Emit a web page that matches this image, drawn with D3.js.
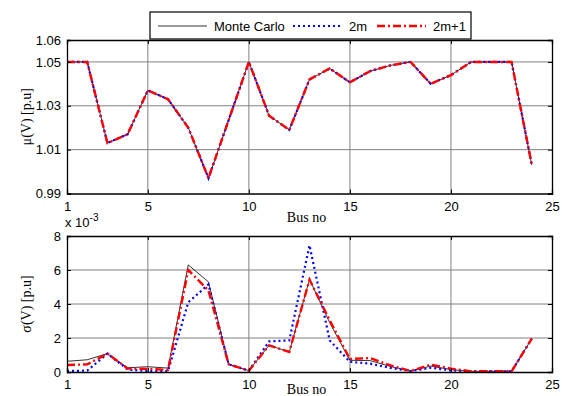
<!DOCTYPE html>
<html>
<head>
<meta charset="utf-8">
<script src="https://cdn.jsdelivr.net/npm/d3@7"></script>
<style>
  body { margin: 0; background: #fff; }
  svg text { font-family: Arial, "Liberation Sans", sans-serif; }
  .serif { font-family: "Times New Roman", "Liberation Serif", serif; }
</style>
</head>
<body>
<svg id="chart" width="562" height="396"></svg>
<script>
// bus numbers
var buses = d3.range(1, 25);

// mean voltage mu(V) [p.u]
var muMC  = [1.050, 1.050, 1.013, 1.017, 1.037, 1.033, 1.020, 0.997, 1.0235, 1.050, 1.0255, 1.019,
             1.042, 1.047, 1.0407, 1.0458, 1.0484, 1.050, 1.040, 1.044, 1.050, 1.050, 1.050, 1.003];
var mu2m  = muMC.slice();
var mu2m1 = muMC.slice();

// std voltage sigma(V) [p.u] x 1e-3
var sdMC  = [0.63, 0.72, 1.08, 0.25, 0.31, 0.23, 6.3, 5.3, 0.45, 0.08, 1.57, 1.18,
             5.45, 2.9, 0.69, 0.67, 0.33, 0.06, 0.35, 0.14, 0.04, 0.04, 0.04, 1.96];
var sd2m  = [0.06, 0.08, 1.08, 0.15, 0.05, 0.05, 4.1, 5.15, 0.45, 0.08, 1.8, 1.86,
             7.45, 1.86, 0.6, 0.49, 0.24, 0.05, 0.25, 0.1, 0.04, 0.04, 0.04, 1.96];
var sd2m1 = [0.41, 0.45, 1.08, 0.2, 0.18, 0.13, 6.0, 4.8, 0.45, 0.08, 1.57, 1.18,
             5.43, 3.04, 0.76, 0.82, 0.39, 0.06, 0.43, 0.2, 0.04, 0.04, 0.04, 1.96];

var xTicks = [1, 5, 10, 15, 20, 25];
var muTicks = [0.99, 1.01, 1.03, 1.05, 1.06];
var sdTicks = [0, 2, 4, 6, 8];

var seriesNames = ["Monte Carlo", "2m", "2m+1"];
var styles = {
  "Monte Carlo": { color: "#000", width: 0.8, dash: null },
  "2m": { color: "#0000ff", width: 2.2, dash: "2,3" },
  "2m+1": { color: "#ff0000", width: 2.4, dash: "8,3,2,3" }
};

var svg = d3.select("#chart");
var left = 67, right = 552;

var x = d3.scaleLinear().domain([1, 25]).range([left, right]);

function panel(top, bottom, yDomain, yTicks, gridTicks, data, ylabel, tickFmt, xlabY) {
  var y = d3.scaleLinear().domain(yDomain).range([bottom, top]);
  var g = svg.append("g");

  // grid
  g.selectAll(".vg").data(xTicks.filter(function(d) { return d > 1 && d < 25; }))
    .join("line")
    .attr("x1", d => x(d)).attr("x2", d => x(d))
    .attr("y1", top).attr("y2", bottom)
    .attr("stroke", "#808080").attr("stroke-width", 1);
  g.selectAll(".hg").data(gridTicks)
    .join("line")
    .attr("x1", left).attr("x2", right)
    .attr("y1", d => y(d)).attr("y2", d => y(d))
    .attr("stroke", "#808080").attr("stroke-width", 1);

  // lines
  var line = d3.line().x((d, i) => x(buses[i])).y(d => y(d));
  data.forEach(function(vals, k) {
    var s = styles[seriesNames[k]];
    g.append("path")
      .attr("d", line(vals))
      .attr("fill", "none")
      .attr("stroke", s.color)
      .attr("stroke-width", s.width)
      .attr("stroke-dasharray", s.dash);
  });

  // axes
  var axB = d3.axisBottom(x).tickValues(xTicks).tickSize(-4).tickPadding(8).tickFormat(d3.format("d"));
  var axT = d3.axisTop(x).tickValues(xTicks).tickSize(-4).tickFormat("");
  var axL = d3.axisLeft(y).tickValues(yTicks).tickSize(-4).tickPadding(6).tickFormat(tickFmt);
  var axR = d3.axisRight(y).tickValues(yTicks).tickSize(-4).tickFormat("");

  [[axB, "translate(0," + bottom + ")"], [axT, "translate(0," + top + ")"],
   [axL, "translate(" + left + ",0)"], [axR, "translate(" + right + ",0)"]].forEach(function(a) {
    var ag = g.append("g").attr("transform", a[1]).call(a[0]);
    ag.select(".domain").attr("stroke", "#000").attr("stroke-width", 1.3);
    ag.selectAll("text").attr("font-size", 13).attr("fill", "#000")
      .style("font-family", "Arial, 'Liberation Sans', sans-serif");
  });

  g.append("text").attr("class", "serif")
    .attr("transform", "translate(31," + ((top + bottom) / 2) + ") rotate(-90)")
    .attr("text-anchor", "middle").attr("font-size", 14)
    .text(ylabel);

  g.append("text").attr("class", "serif")
    .attr("x", (left + right) / 2 - 3).attr("y", xlabY)
    .attr("text-anchor", "middle").attr("font-size", 14)
    .text("Bus no");

  return y;
}

panel(40, 193.5, [0.99, 1.06], muTicks, [1.01, 1.03, 1.05], [muMC, mu2m, mu2m1], "\u03bc(V) [p.u]",
      function(d) { return d3.format(".2f")(d); }, 222);
panel(236, 372, [0, 8], sdTicks, [2, 4, 6], [sdMC, sd2m, sd2m1], "\u03c3(V) [p.u]",
      d3.format("d"), 394);

// exponent label
var ex = svg.append("text").attr("x", 65).attr("y", 227).attr("font-size", 13);
ex.append("tspan").text("x 10");
ex.append("tspan").attr("dy", -6).attr("font-size", 10).text("-3");

// legend
var lg = svg.append("g");
lg.append("rect").attr("x", 150).attr("y", 12).attr("width", 321).attr("height", 27)
  .attr("fill", "#fff").attr("stroke", "#000").attr("stroke-width", 1.2);
var legX = [158, 293, 377];
seriesNames.forEach(function(name, k) {
  var s = styles[name];
  lg.append("line").attr("x1", legX[k]).attr("x2", legX[k] + 49)
    .attr("y1", 26).attr("y2", 26)
    .attr("stroke", s.color).attr("stroke-width", s.width)
    .attr("stroke-dasharray", s.dash);
  lg.append("text").attr("x", legX[k] + 56).attr("y", 30.5)
    .attr("font-size", 13).text(name);
});
</script>
</body>
</html>
